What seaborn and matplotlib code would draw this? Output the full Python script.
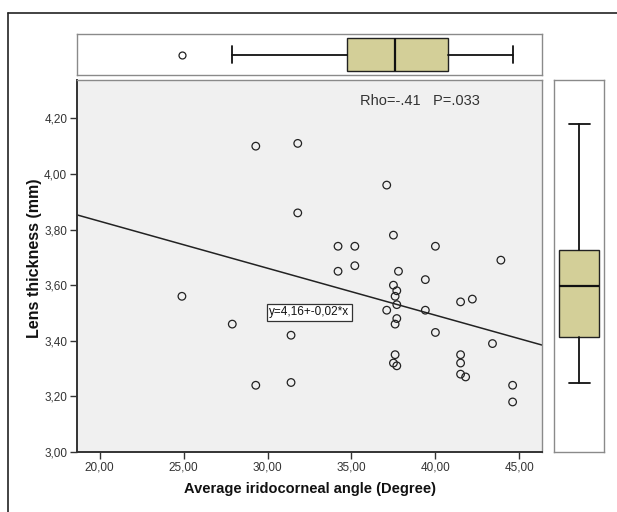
import matplotlib
matplotlib.use("Agg")
from matplotlib import pyplot as plt
from matplotlib.ticker import FuncFormatter
import seaborn as sns
import pandas as pd

# scatter data
angle = [24.9, 27.9, 29.3, 29.3, 31.4, 31.4, 31.8, 31.8, 34.2, 34.2,
         35.2, 35.2, 37.1, 37.1, 37.5, 37.5, 37.7, 37.6, 37.7, 37.8,
         37.7, 37.6, 37.6, 37.5, 37.7, 39.4, 39.4, 40.0, 40.0, 41.5,
         42.2, 41.5, 41.5, 41.5, 41.8, 43.4, 43.9, 44.6, 44.6]
lens = [3.56, 3.46, 4.10, 3.24, 3.42, 3.25, 4.11, 3.86, 3.74, 3.65,
        3.74, 3.67, 3.96, 3.51, 3.78, 3.60, 3.58, 3.56, 3.53, 3.65,
        3.48, 3.46, 3.35, 3.32, 3.31, 3.62, 3.51, 3.74, 3.43, 3.54,
        3.55, 3.35, 3.32, 3.28, 3.27, 3.39, 3.69, 3.24, 3.18]

# fit line as printed
intercept = 4.168
slope = -0.0169

# boxplot summaries (whislo, q1, med, q3, whishi, outliers)
angle_box = [27.9, 34.74, 37.6, 40.77, 44.65]
angle_fliers = [24.9]
lens_box = [3.247, 3.415, 3.596, 3.728, 4.18]
lens_fliers = []

df = pd.DataFrame({"angle": angle, "lens": lens})

sns.set_style("white")
plt.rcParams["font.family"] = ["Liberation Sans", "DejaVu Sans"]

W, H = 617, 512
fig = plt.figure(figsize=(W / 100, H / 100), dpi=100)

def box(x0, y0, x1, y1):
    return [x0 / W, 1 - y1 / H, (x1 - x0) / W, (y1 - y0) / H]

ax = fig.add_axes(box(77, 80, 542, 452))
ax_top = fig.add_axes(box(77, 34, 542, 75))
ax_right = fig.add_axes(box(554, 80, 604, 452))

# frame round the figure (top and left edges visible)
fig.add_artist(plt.Line2D([8 / W, 1], [1 - 12.5 / H] * 2, color="#222222", lw=1.2))
fig.add_artist(plt.Line2D([8 / W] * 2, [0, 1 - 12.5 / H], color="#222222", lw=1.2))

ax.set_facecolor("#f0f0f0")
sns.scatterplot(data=df, x="angle", y="lens", ax=ax, marker="o", s=30,
                facecolor="none", edgecolor="#222222", linewidth=0.9, zorder=3)
ax.axline((0, intercept), slope=slope, color="#222222", lw=1.1, zorder=2)

ax.set_xlim(18.65, 46.35)
ax.set_ylim(3.0, 4.338)
ax.set_xticks([20, 25, 30, 35, 40, 45])
ax.set_yticks([3.0, 3.2, 3.4, 3.6, 3.8, 4.0, 4.2])
comma = FuncFormatter(lambda v, p: ("%.2f" % v).replace(".", ","))
ax.xaxis.set_major_formatter(comma)
ax.yaxis.set_major_formatter(comma)
ax.tick_params(axis="both", direction="out", length=5, width=1, color="#333333",
               labelsize=8.5, labelcolor="#333333", pad=2, bottom=True, left=True)
ax.set_xlabel("Average iridocorneal angle (Degree)", fontsize=10.5, fontweight="bold",
              color="#111111", labelpad=6)
ax.set_ylabel("Lens thickness (mm)", fontsize=11.5, fontweight="bold",
              color="#111111", labelpad=2)
ax.yaxis.set_label_coords(-0.075, 0.52)
for s in ["left", "bottom"]:
    ax.spines[s].set_color("#333333")
    ax.spines[s].set_linewidth(1.4)
for s in ["top", "right"]:
    ax.spines[s].set_color("#8a8a8a")
    ax.spines[s].set_linewidth(1.0)

ax.text(0.738, 0.943, "Rho=-.41   P=.033", transform=ax.transAxes, ha="center",
        va="center", fontsize=10.5, color="#333333")
ax.text(0.50, 0.376, "y=4,16+-0,02*x", transform=ax.transAxes, ha="center",
        va="center", fontsize=8.5, color="#111111",
        bbox=dict(boxstyle="square,pad=0.22", fc="white", ec="#333333", lw=0.9))

def stats(vals, fliers):
    return [dict(whislo=vals[0], q1=vals[1], med=vals[2], q3=vals[3],
                 whishi=vals[4], fliers=fliers)]

box_kw = dict(patch_artist=True, widths=0.8, capwidths=0.42,
              boxprops=dict(facecolor="#d3cf98", edgecolor="#222222", lw=1.0),
              medianprops=dict(color="#111111", lw=1.6),
              whiskerprops=dict(color="#111111", lw=1.3),
              capprops=dict(color="#111111", lw=1.3),
              flierprops=dict(marker="o", markersize=5, markerfacecolor="none",
                              markeredgecolor="#222222", markeredgewidth=0.9))

ax_top.bxp(stats(angle_box, angle_fliers), positions=[1], orientation="horizontal", **box_kw)
ax_top.set_xlim(ax.get_xlim())
ax_top.set_ylim(0.5, 1.5)

ax_right.bxp(stats(lens_box, lens_fliers), positions=[1], orientation="vertical", **box_kw)
ax_right.set_ylim(ax.get_ylim())
ax_right.set_xlim(0.5, 1.5)

for a in [ax_top, ax_right]:
    a.set_facecolor("white")
    a.set_xticks([])
    a.set_yticks([])
    for s in a.spines.values():
        s.set_color("#8a8a8a")
        s.set_linewidth(1.0)

fig.savefig("out.png", dpi=100)
